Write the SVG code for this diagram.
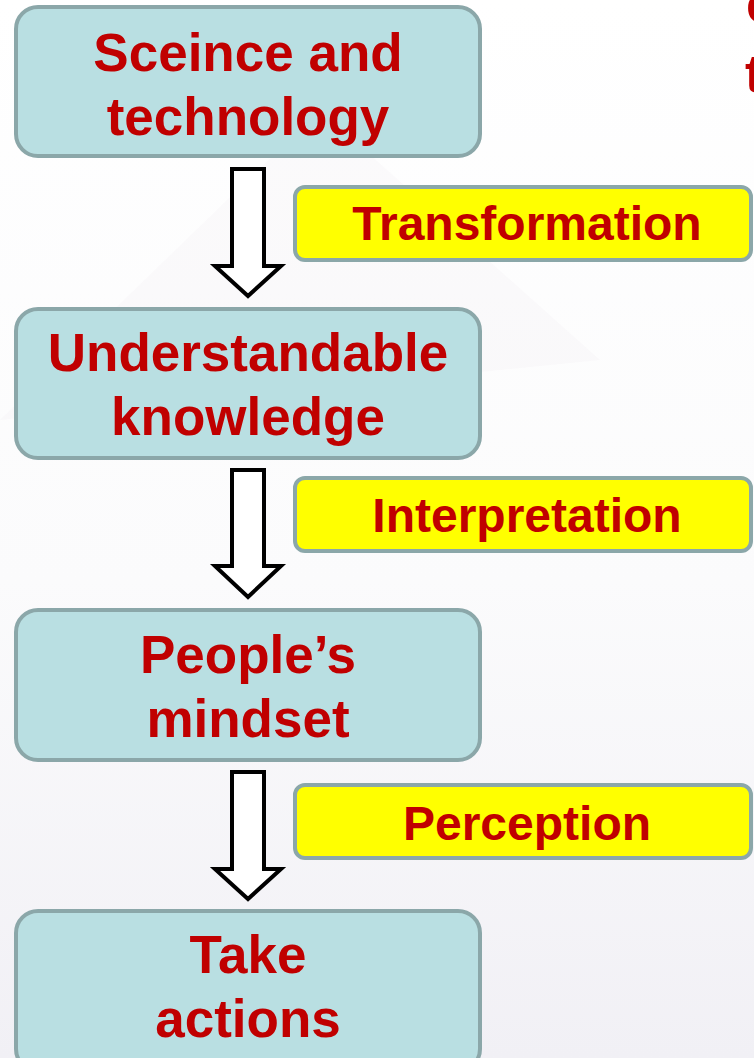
<svg xmlns="http://www.w3.org/2000/svg" width="754" height="1058" viewBox="0 0 754 1058">
<defs>
<linearGradient id="bg" x1="0" y1="0" x2="0" y2="1">
<stop offset="0" stop-color="#FFFFFF"/>
<stop offset="0.55" stop-color="#FBFBFC"/>
<stop offset="1" stop-color="#F1F0F5"/>
</linearGradient>
<style>
.node{fill:#B9DFE2;stroke:#8BA7A9;stroke-width:4}
.lab{fill:#FFFF00;stroke:#8BA7A9;stroke-width:4}
.t{font-family:"Liberation Sans",Arial,sans-serif;font-weight:bold;fill:#C00000;text-anchor:middle}
.big{font-size:53px}
.small{font-size:48px}
.arrow{fill:#FFFFFF;stroke:#000000;stroke-width:4;stroke-linejoin:miter}
</style>
</defs>
<rect x="0" y="0" width="754" height="1058" fill="url(#bg)"/>
<polygon points="0,420 320,110 600,360" fill="#EEEDF1" opacity="0.2"/>
<text class="t big" x="746" y="22" style="text-anchor:start">c</text>
<text class="t big" x="745" y="92" style="text-anchor:start">t</text>
<g id="connectors">
<path class="arrow" d="M232,169 H264 V266 H281 L248,296 L215,266 H232 Z"/>
<path class="arrow" d="M232,470 H264 V566 H281 L248,597 L215,566 H232 Z"/>
<path class="arrow" d="M232,772 H264 V869 H281 L248,899 L215,869 H232 Z"/>
</g>
<g id="n1">
<rect class="node" x="16" y="7" width="464" height="149" rx="22"/>
<text class="t big" x="248" y="71">Sceince and</text>
<text class="t big" x="248" y="135">technology</text>
</g>
<g id="l1">
<rect class="lab" x="295" y="187" width="456" height="73" rx="10"/>
<text class="t small" x="527" y="240">Transformation</text>
</g>
<g id="n2">
<rect class="node" x="16" y="309" width="464" height="149" rx="22"/>
<text class="t big" x="248" y="371">Understandable</text>
<text class="t big" x="248" y="435">knowledge</text>
</g>
<g id="l2">
<rect class="lab" x="295" y="478" width="456" height="73" rx="10"/>
<text class="t small" x="527" y="532">Interpretation</text>
</g>
<g id="n3">
<rect class="node" x="16" y="610" width="464" height="150" rx="22"/>
<text class="t big" x="248" y="673">People’s</text>
<text class="t big" x="248" y="737">mindset</text>
</g>
<g id="l3">
<rect class="lab" x="295" y="785" width="456" height="73" rx="10"/>
<text class="t small" x="527" y="840">Perception</text>
</g>
<g id="n4">
<rect class="node" x="16" y="911" width="464" height="160" rx="22"/>
<text class="t big" x="248" y="973">Take</text>
<text class="t big" x="248" y="1037">actions</text>
</g>
</svg>
